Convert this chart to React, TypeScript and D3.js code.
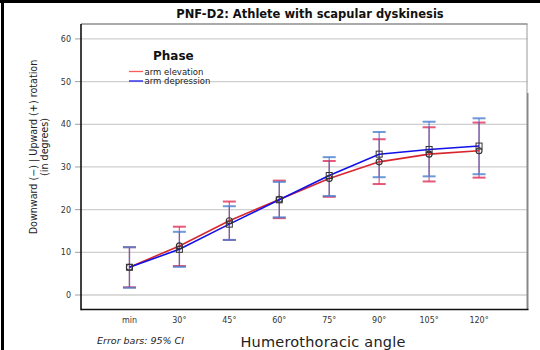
import React from "react";
import * as d3 from "d3";

const categories = ["min", "30°", "45°", "60°", "75°", "90°", "105°", "120°"];
const elevMean = [6.5, 11.5, 17.4, 22.4, 27.3, 31.2, 33.0, 33.8];
const elevLow = [1.8, 6.8, 12.9, 18.0, 23.0, 26.0, 26.6, 27.5];
const elevHigh = [11.2, 16.0, 21.9, 26.8, 31.4, 36.5, 39.3, 40.4];
const depMean = [6.5, 10.7, 16.6, 22.3, 28.0, 33.0, 34.1, 34.9];
const depLow = [1.7, 6.6, 12.9, 18.2, 23.2, 27.6, 27.8, 28.3];
const depHigh = [11.2, 14.8, 20.8, 26.5, 32.3, 38.2, 40.6, 41.4];
const yTicks = [0, 10, 20, 30, 40, 50, 60];

const W = 540;
const H = 350;
const L = 81, R = 527.5, T = 24, B = 309.5;
const FONT = "'DejaVu Sans', sans-serif";

export default function App() {
  const x = d3.scalePoint<string>().domain(categories).range([L, R]).padding(0.97);
  const y = d3.scaleLinear().domain([-3.4, 63.5]).range([B, T]);

  const series = [
    { name: "arm elevation", mean: elevMean, low: elevLow, high: elevHigh, line: "#d8262e", bar: "#c8284a", cap: "#e0305a", legend: "#ff5a5a", marker: "circle" },
    { name: "arm depression", mean: depMean, low: depLow, high: depHigh, line: "#1010e8", bar: "#3a62c8", cap: "#4a80d0", legend: "#1818f0", marker: "square" },
  ];

  const lineGen = (vals: number[]) =>
    d3.line<number>().x((_, i) => x(categories[i]) as number).y((v) => y(v))(vals) || "";

  return (
    <svg width={W} height={H} style={{ position: "absolute", left: 0, top: 0, background: "#fff" }} fontFamily={FONT}>
      <rect x={0} y={0} width={W} height={H} fill="#fff" />
      {/* outer black border (top and left) */}
      <line x1={0} y1={1.5} x2={W} y2={1.5} stroke="#000" strokeWidth={3} />
      <line x1={2.5} y1={0} x2={2.5} y2={H} stroke="#000" strokeWidth={3} />

      {/* title */}
      <text x={310} y={18} textAnchor="middle" fontSize={11.5} fontWeight="bold" fill="#111">
        PNF-D2: Athlete with scapular dyskinesis
      </text>

      {/* gridlines and y ticks */}
      {yTicks.map((t) => (
        <g key={t}>
          <line x1={L} x2={R} y1={y(t)} y2={y(t)} stroke="#cfcfcf" strokeWidth={1.3} />
          <line x1={75} x2={L} y1={y(t)} y2={y(t)} stroke="#a0a0a0" strokeWidth={1} />
          <text x={71} y={y(t) + 3} textAnchor="end" fontSize={8} fill="#333">
            {t}
          </text>
        </g>
      ))}

      {/* frame */}
      <line x1={L} y1={T} x2={R} y2={T} stroke="#555" strokeWidth={1} />
      <line x1={R - 0.5} y1={T} x2={R - 0.5} y2={93} stroke="#999" strokeWidth={1} />
      <line x1={R} y1={93} x2={R} y2={B} stroke="#888" strokeWidth={2} />
      <line x1={L} y1={T} x2={L} y2={B + 0.8} stroke="#111" strokeWidth={1.6} />
      <line x1={L} y1={B} x2={R + 1} y2={B} stroke="#111" strokeWidth={1.6} />

      {/* x tick labels */}
      {categories.map((c) => (
        <text key={c} x={x(c) as number} y={323} textAnchor="middle" fontSize={8} fill="#333">
          {c}
        </text>
      ))}

      {/* error bars */}
      {series.map((s) => (
        <g key={s.name + "eb"}>
          {categories.map((c, i) => {
            const cx = x(c) as number;
            return (
              <g key={c}>
                <line x1={cx} x2={cx} y1={y(s.low[i])} y2={y(s.high[i])} stroke={s.bar} strokeWidth={1.3} strokeOpacity={0.7} />
                <line x1={cx - 6.5} x2={cx + 6.5} y1={y(s.low[i])} y2={y(s.low[i])} stroke={s.cap} strokeWidth={2} strokeOpacity={0.8} />
                <line x1={cx - 6.5} x2={cx + 6.5} y1={y(s.high[i])} y2={y(s.high[i])} stroke={s.cap} strokeWidth={2} strokeOpacity={0.8} />
              </g>
            );
          })}
        </g>
      ))}

      {/* lines */}
      {series.map((s) => (
        <path key={s.name + "ln"} d={lineGen(s.mean)} fill="none" stroke={s.line} strokeWidth={1.6} />
      ))}

      {/* markers */}
      {series.map((s) => (
        <g key={s.name + "mk"}>
          {s.mean.map((v, i) => {
            const cx = x(categories[i]) as number;
            const cy = y(v);
            return s.marker === "circle" ? (
              <circle key={i} cx={cx} cy={cy} r={3} fill="none" stroke="#333" strokeWidth={1.1} />
            ) : (
              <rect key={i} x={cx - 3} y={cy - 3} width={6} height={6} fill="none" stroke="#333" strokeWidth={1} />
            );
          })}
        </g>
      ))}

      {/* legend */}
      <text x={153} y={60} fontSize={12} fontWeight="bold" fill="#111">Phase</text>
      {series.map((s, i) => (
        <g key={s.name + "lg"}>
          <line x1={129} x2={143} y1={71.5 + i * 9.5} y2={71.5 + i * 9.5} stroke={s.legend} strokeWidth={1.3} />
          <text x={144.5} y={74.5 + i * 9.5} fontSize={8.5} fill="#222">{s.name}</text>
        </g>
      ))}

      {/* axis titles */}
      <g transform="translate(37,147) rotate(-90)">
        <text x={0} y={0} textAnchor="middle" fontSize={9.6} fill="#222">
          Downward (−) | Upward (+) rotation
        </text>
        <text x={0} y={10.5} textAnchor="middle" fontSize={9.6} fill="#222">
          (in degrees)
        </text>
      </g>
      <text x={323} y={347} textAnchor="middle" fontSize={14.5} letterSpacing={0.2} fill="#222">
        Humerothoracic angle
      </text>
      <text x={97} y={344} fontSize={9.5} fontStyle="italic" fill="#222">
        Error bars: 95% CI
      </text>
    </svg>
  );
}
